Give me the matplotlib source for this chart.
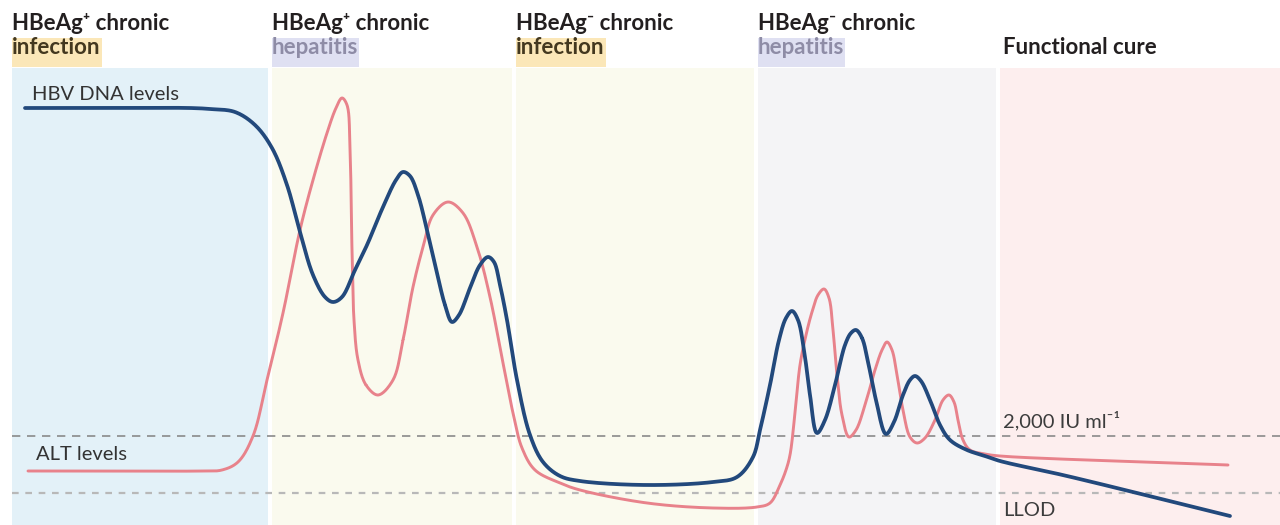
#!/usr/bin/env python3

import numpy as np
import matplotlib
matplotlib.use('Agg')
import matplotlib.pyplot as plt
from matplotlib.patches import Rectangle

# phases: name line 1, name line 2, x range, background
phase_top = ['HBeAg\u207a chronic', 'HBeAg\u207a chronic', 'HBeAg\u207b chronic', 'HBeAg\u207b chronic', '']
phase_bottom = ['infection', 'hepatitis', 'infection', 'hepatitis', 'Functional cure']
phase_start = [12, 272, 516, 758, 1000]
phase_end = [268, 512, 754, 996, 1280]
phase_bg = ['#e3f1f8', '#fafaee', '#fafaee', '#f4f4f6', '#fdeeee']

# HBV DNA curve (time, screen level read top-down)
hbv_t = [25, 120, 190, 210, 235, 255, 272, 287, 300, 313, 325, 333, 342, 355, 367,
         383, 396, 403, 410, 418, 427, 437, 445, 452, 459, 470, 480, 488, 494, 500,
         507, 517, 530, 543, 560, 580, 647, 713, 737, 753, 760, 770, 779, 786, 792,
         798, 804, 810, 817, 825, 835, 845, 851, 856, 862, 868, 876, 886, 894, 903,
         910, 915, 921, 930, 940, 950, 967, 985, 1000, 1067, 1230]
hbv_py = [108, 108, 108, 109, 112, 125, 148, 185, 232, 275, 297, 302, 297, 270, 245,
          207, 180, 172, 176, 195, 230, 273, 305, 322, 315, 288, 265, 257, 262, 285,
          320, 380, 435, 462, 476, 481, 485, 482, 477, 457, 430, 385, 340, 318, 311,
          320, 350, 395, 433, 420, 385, 345, 333, 330, 338, 362, 400, 434, 422, 395,
          380, 376, 381, 400, 425, 440, 450, 456, 461, 476, 516]

# ALT curve (time, screen level read top-down)
alt_t = [28, 120, 200, 222, 238, 253, 267, 283, 300, 313, 327, 336, 342, 347, 350,
         352, 354, 358, 366, 378, 393, 403, 413, 423, 433, 448, 463, 477, 490, 503,
         513, 522, 535, 560, 580, 647, 713, 757, 770, 780, 786, 790, 795, 800, 806,
         812, 818, 824, 829, 833, 837, 842, 849, 856, 865, 875, 882, 887, 892, 897,
         903, 910, 917, 925, 935, 943, 949, 954, 958, 963, 970, 985, 1000, 1228]
alt_py = [471, 471, 471, 470, 462, 436, 380, 313, 230, 180, 133, 108, 98, 105, 150,
          250, 320, 360, 385, 395, 380, 340, 287, 247, 215, 202, 213, 247, 297, 363,
          413, 448, 470, 483, 490, 503, 508, 507, 503, 485, 470, 455, 413, 365, 335,
          312, 295, 289, 298, 330, 375, 415, 437, 430, 405, 370, 350, 342, 350, 375,
          410, 437, 443, 438, 420, 400, 395, 402, 420, 440, 450, 454, 456, 465]

H = 525
hbv_level = [H - v for v in hbv_py]
alt_level = [H - v for v in alt_py]
threshold_2000 = H - 436
threshold_llod = H - 493


def smooth(xs, ys, n=20):
    """ centripetal catmull-rom through the read points """
    p = np.column_stack([xs, ys]).astype(float)
    p = np.vstack([p[0] - (p[1] - p[0]), p, p[-1] + (p[-1] - p[-2])])
    out = []
    for i in range(1, len(p) - 2):
        p0, p1, p2, p3 = p[i - 1], p[i], p[i + 1], p[i + 2]
        t0 = 0.0
        t1 = t0 + np.linalg.norm(p1 - p0) ** 0.5
        t2 = t1 + np.linalg.norm(p2 - p1) ** 0.5
        t3 = t2 + np.linalg.norm(p3 - p2) ** 0.5
        t = np.linspace(t1, t2, n)[:, None]
        a1 = (t1 - t) / (t1 - t0) * p0 + (t - t0) / (t1 - t0) * p1
        a2 = (t2 - t) / (t2 - t1) * p1 + (t - t1) / (t2 - t1) * p2
        a3 = (t3 - t) / (t3 - t2) * p2 + (t - t2) / (t3 - t2) * p3
        b1 = (t2 - t) / (t2 - t0) * a1 + (t - t0) / (t2 - t0) * a2
        b2 = (t3 - t) / (t3 - t1) * a2 + (t - t1) / (t3 - t1) * a3
        c = (t2 - t) / (t2 - t1) * b1 + (t - t1) / (t2 - t1) * b2
        out.append(c)
    out = np.vstack(out)
    return out[:, 0], out[:, 1]


fam = ['Lato', 'DejaVu Sans']
fig = plt.figure(figsize=(12.8, 5.25), dpi=100)
ax = fig.add_axes([0, 0, 1, 1])
ax.set_xlim(0, 1280)
ax.set_ylim(0, H)
ax.axis('off')

panel_top = H - 68
for i in range(len(phase_start)):
    ax.add_patch(Rectangle((phase_start[i], 0), phase_end[i] - phase_start[i], panel_top,
                           facecolor=phase_bg[i], edgecolor='none', zorder=0))
    x0 = phase_start[i]
    if phase_top[i]:
        ax.text(x0, H - 24, phase_top[i], family=fam, fontsize=16, fontweight='bold',
                color='#231f20', va='center', ha='left')
        word = phase_bottom[i]
        if word == 'infection':
            hl, tc = '#fbe7b8', '#43381f'
        else:
            hl, tc = '#dfe0f2', '#8e8ca6'
        t = ax.text(x0, H - 47, word, family=fam, fontsize=16, fontweight='bold',
                    color=tc, va='center', ha='left', zorder=3)
        fig.canvas.draw()
        bb = t.get_window_extent().transformed(ax.transData.inverted())
        ax.add_patch(Rectangle((bb.x0, H - 67), bb.x1 - bb.x0 + 1, 29, facecolor=hl,
                               edgecolor='none', zorder=2))
    else:
        ax.text(x0 + 3, H - 47, phase_bottom[i], family=fam, fontsize=16,
                fontweight='bold', color='#231f20', va='center', ha='left')

ax.plot([12, 1280], [threshold_2000] * 2, color='#8a8a8a', lw=1.2,
        dashes=(5, 4), zorder=1)
ax.plot([12, 1280], [threshold_llod] * 2, color='#b8b8b8', lw=1.6,
        dashes=(3, 3), zorder=1)

xa, ya = smooth(alt_t, alt_level)
ax.plot(xa, ya, color='#e8828b', lw=2.1, solid_capstyle='round', zorder=4)
xb, yb = smooth(hbv_t, hbv_level)
ax.plot(xb, yb, color='#22497c', lw=2.7, solid_capstyle='round', zorder=5)

ax.text(32, H - 95, 'HBV DNA levels', family=fam, fontsize=14.5, color='#333333',
        va='center', ha='left')
ax.text(36, H - 455, 'ALT levels', family=fam, fontsize=14.5, color='#333333',
        va='center', ha='left')
ax.text(1003, H - 421, '2,000 IU ml\u207b\u00b9', family=fam, fontsize=14.5,
        color='#3c3c3c', va='center', ha='left')
ax.text(1003, H - 511, 'LLOD', family=fam, fontsize=14.5, color='#3c3c3c',
        va='center', ha='left')

fig.savefig('out.png', dpi=100)
